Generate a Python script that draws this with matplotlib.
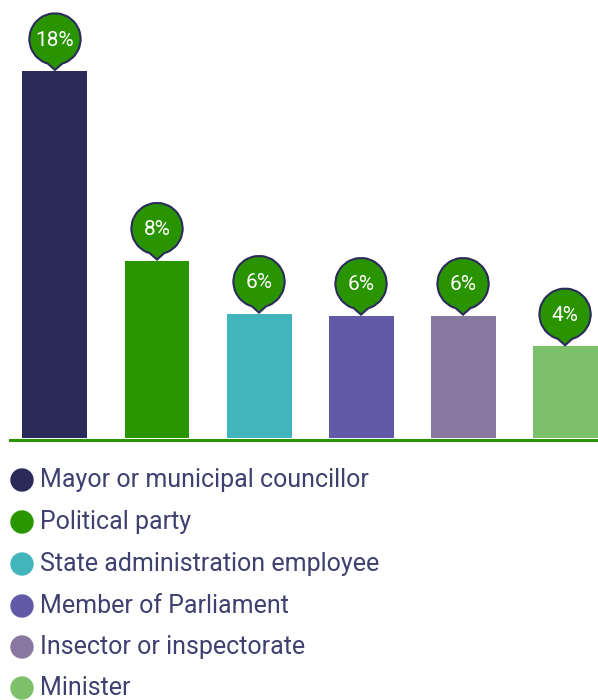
import matplotlib.pyplot as plt
from matplotlib.path import Path
from matplotlib.patches import PathPatch
from matplotlib.transforms import IdentityTransform
import numpy as np

plt.rcParams['font.family'] = ['Roboto', 'DejaVu Sans']

categories = ['Mayor or municipal councillor', 'Political party',
              'State administration employee', 'Member of Parliament',
              'Insector or inspectorate', 'Minister']
values = [18.0, 8.7, 6.1, 6.0, 6.0, 4.5]
colors = ['#2b2b5a', '#299600', '#42b4bc', '#625aa6', '#8878a0', '#7dc06a']

W, H = 598, 700
fig = plt.figure(figsize=(W / 100, H / 100), dpi=100)

# bar area: baseline sits 438px from the top
ax = fig.add_axes([0, (H - 438) / H, 1, 438 / H])
x = np.arange(len(values))
ax.bar(x, values, width=0.637, color=colors, zorder=2)
ax.set_xlim(-0.539, 5.323)
ax.set_ylim(0, 18 * 438 / 367)
ax.axis('off')

# green base line just under the bars
fig.add_artist(plt.Line2D([10, W], [H - 439.5, H - 439.5], transform=IdentityTransform(),
                          color='#2a9400', lw=2.2, zorder=3))


def bubble(cx, tip_y, r=25.5, gap=31, half=17):
    # circle with a small pointer whose tip touches the bar top (display px)
    cy = tip_y + gap
    arc = Path.arc(-90 + half, 270 - half)
    verts = arc.vertices * r + [cx, cy]
    verts = np.vstack([verts, [[cx, tip_y], verts[0]]])
    return Path(verts), cy


for i, v in enumerate(values):
    px, py = ax.transData.transform((x[i], v))
    path, cy = bubble(px, py + 1)
    fig.add_artist(PathPatch(path, transform=IdentityTransform(),
                             facecolor='#2a9400', edgecolor='#2b2b5a',
                             lw=1.5, zorder=5))
    fig.text(px / W, (cy - 1) / H, f'{int(v)}%', color='white', fontsize=15,
             ha='center', va='center', zorder=6)

# legend rows
row_y = [480, 522, 564, 606, 647, 688]
for name, c, ry in zip(categories, colors, row_y):
    fig.add_artist(plt.Circle((22, H - ry), 11, transform=IdentityTransform(),
                              color=c, zorder=5))
    fig.text(40 / W, (H - ry) / H, name, color='#404070', fontsize=18,
             ha='left', va='center')

fig.savefig('out.png', dpi=100)
